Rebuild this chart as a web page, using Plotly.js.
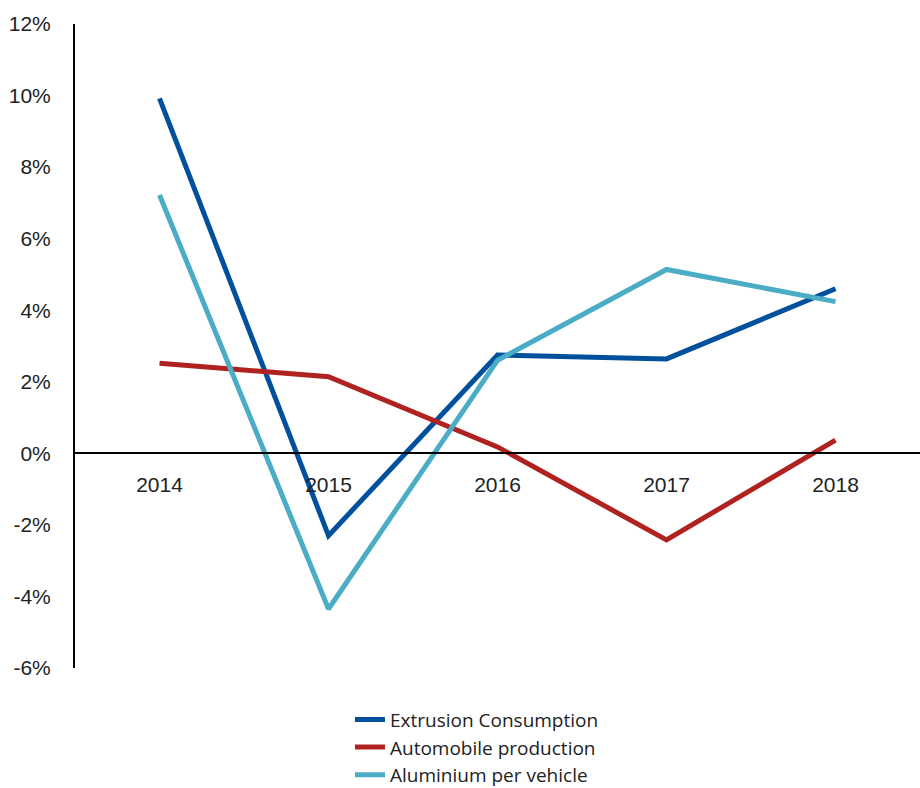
<!DOCTYPE html>
<html>
<head>
<meta charset="utf-8">
<script src="https://cdn.plot.ly/plotly-3.0.1.min.js"></script>
<style>html,body{margin:0;padding:0;background:#fff;}#chart{width:920px;height:788px;}</style>
</head>
<body>
<div id="chart"></div>
<script>
var years = ["2014", "2015", "2016", "2017", "2018"];
var extrusionConsumption = [9.92, -2.3, 2.75, 2.64, 4.6];
var automobileProduction = [2.52, 2.14, 0.18, -2.42, 0.37];
var aluminiumPerVehicle = [7.22, -4.35, 2.6, 5.14, 4.24];
var yTickVals = [-6, -4, -2, 0, 2, 4, 6, 8, 10, 12];
var yTickText = ["-6%", "-4%", "-2%", "0%", "2%", "4%", "6%", "8%", "10%", "12%"];

var font = "Liberation Sans, Arial, sans-serif";
function tr(name, y, color) {
  return {x: years, y: y, name: name, type: "scatter", mode: "lines",
    line: {color: color, width: 5}};
}
var data = [
  tr("Extrusion Consumption", extrusionConsumption, "#00509E"),
  tr("Automobile production", automobileProduction, "#B0221F"),
  tr("Aluminium per vehicle", aluminiumPerVehicle, "#4BACC6")
];
var layout = {
  width: 920, height: 788,
  margin: {l: 75, r: 0, t: 24, b: 120, autoexpand: false},
  paper_bgcolor: "#fff", plot_bgcolor: "#fff",
  showlegend: true,
  legend: {x: 0.3254, xref: "paper", y: 0.111, yref: "container",
    xanchor: "left", yanchor: "top",
    font: {family: "Open Sans, Liberation Sans, sans-serif", size: 19, color: "#222"},
    tracegroupgap: 0, bgcolor: "rgba(0,0,0,0)"},
  xaxis: {type: "category", anchor: "free", position: 1/3,
    showline: true, linecolor: "#000", linewidth: 2,
    showgrid: false, zeroline: false, ticks: "",
    ticklabelstandoff: 12,
    tickfont: {family: font, size: 21, color: "#222"},
    range: [-0.5, 4.5]},
  yaxis: {range: [-6, 12], tickvals: yTickVals, ticktext: yTickText,
    showline: true, linecolor: "#000", linewidth: 2,
    showgrid: false, zeroline: false, ticks: "",
    ticklabelstandoff: 18,
    tickfont: {family: font, size: 21, color: "#222"}}
};
Plotly.newPlot("chart", data, layout, {displayModeBar: false, staticPlot: true});
</script>
</body>
</html>
